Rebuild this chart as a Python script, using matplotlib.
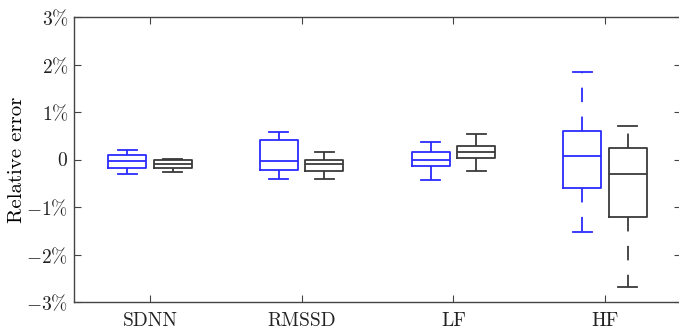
import matplotlib
matplotlib.use("Agg")
import matplotlib.pyplot as plt

plt.rcParams['font.family'] = 'serif'
plt.rcParams['font.serif'] = ['cmr10']
plt.rcParams['mathtext.fontset'] = 'cm'
plt.rcParams['axes.unicode_minus'] = False

categories = ['SDNN', 'RMSSD', 'LF', 'HF']

# Blue method (left boxes), values in %
blue_whislo = [-0.30, -0.41, -0.43, -1.52]
blue_q1     = [-0.18, -0.23, -0.14, -0.59]
blue_med    = [-0.03, -0.04, -0.02,  0.07]
blue_q3     = [ 0.09,  0.42,  0.15,  0.60]
blue_whishi = [ 0.21,  0.57,  0.36,  1.84]

# Black method (right boxes), values in %
black_whislo = [-0.26, -0.42, -0.25, -2.68]
black_q1     = [-0.18, -0.25,  0.04, -1.22]
black_med    = [-0.09, -0.09,  0.16, -0.31]
black_q3     = [-0.01,  0.00,  0.28,  0.25]
black_whishi = [ 0.01,  0.15,  0.53,  0.71]

yticks = [-3, -2, -1, 0, 1, 2, 3]
ytick_labels = [r'$-3\%$', r'$-2\%$', r'$-1\%$', r'$0$', r'$1\%$', r'$2\%$', r'$3\%$']

fig = plt.figure(figsize=(6.79, 3.33), dpi=100)
ax = fig.add_axes([74/679, 31/333, 607/679, 285/333])

def stats(lo, q1, med, q3, hi):
    return [dict(whislo=a, q1=b, med=c, q3=d, whishi=e, fliers=[])
            for a, b, c, d, e in zip(lo, q1, med, q3, hi)]

pos = list(range(1, len(categories) + 1))
offset = 0.15
width = 0.25
dash = (0, (8, 8))

for st, shift, col in [
    (stats(blue_whislo, blue_q1, blue_med, blue_q3, blue_whishi), -offset, '#2b2bff'),
    (stats(black_whislo, black_q1, black_med, black_q3, black_whishi), offset, '#3a3a3a'),
]:
    ax.bxp(st, positions=[p + shift for p in pos], widths=width,
           showfliers=False, manage_ticks=False,
           boxprops=dict(color=col, linewidth=1.3),
           medianprops=dict(color=col, linewidth=1.3),
           whiskerprops=dict(color=col, linewidth=1.3, linestyle=dash),
           capprops=dict(color=col, linewidth=1.3))

ax.set_xlim(0.5, 4.5)
ax.set_ylim(-3, 3)
ax.set_xticks(pos)
ax.set_xticklabels(categories, fontsize=14)
ax.set_yticks(yticks)
ax.set_yticklabels(ytick_labels, fontsize=14)
ax.set_ylabel('Relative error', fontsize=15, labelpad=0)

ax.tick_params(direction='in', length=5, width=0.8, color='#444444',
               top=True, right=True, labelcolor='#222222')
ax.tick_params(axis='x', pad=7)
ax.tick_params(axis='y', pad=4)
for s in ax.spines.values():
    s.set_color('#444444')
    s.set_linewidth(1.0)

fig.savefig('out.png', dpi=100)
